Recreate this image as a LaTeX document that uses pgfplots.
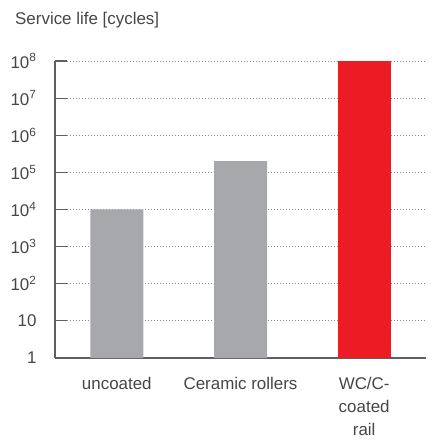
\documentclass[border=0pt]{standalone}
\usepackage{fontspec}
\setmainfont{Liberation Sans}
\usepackage{pgfplots}
\pgfplotsset{compat=1.18}
\definecolor{bargray}{RGB}{167,168,171}
\definecolor{barred}{RGB}{237,28,36}
\definecolor{txt}{RGB}{70,70,72}
\definecolor{axisline}{RGB}{95,95,98}
\definecolor{gridgray}{RGB}{140,140,144}

\begin{document}
\begin{tikzpicture}
\begin{axis}[
    scale only axis,
    width=371bp, height=297bp,
    ymode=log,
    ymin=1, ymax=1e8,
    xmin=-0.5, xmax=2.5,
    axis x line*=bottom,
    axis y line*=left,
    axis line style={axisline, line width=1.2bp},
    ytick={1,10,100,1000,10000,100000,1000000,10000000,100000000},
    yticklabels={1,10,10\textsuperscript{2},10\textsuperscript{3},10\textsuperscript{4},10\textsuperscript{5},10\textsuperscript{6},10\textsuperscript{7},10\textsuperscript{8}},
    minor ytick={},
    minor tick length=0pt,
    major tick length=0pt,
    ytick style={draw=none},
    xtick={0,1,2},
    xticklabels={uncoated,Ceramic rollers,{WC/C-\\coated\\rail}},
    xtick style={draw=none},
    ymajorgrids,
    major grid style={gridgray, line width=0.9bp, dash pattern=on 0.9bp off 2.1bp},
    tick label style={font=\fontsize{17}{23}\selectfont, text=txt},
    yticklabel style={anchor=east, xshift=-15bp},
    xticklabel style={align=center, anchor=north, yshift=-16bp},
    clip=false,
]
\addplot[ybar, bar width=53bp, fill=bargray, draw=none] coordinates {(0,10000) (1,200000)};
\addplot[ybar, bar width=53bp, fill=barred, draw=none] coordinates {(2,100000000)};
\foreach \k in {1,...,8} {
  \edef\temp{\noexpand\draw[axisline, line width=1.2bp] (axis cs:-0.5,1e\k) -- ([xshift=12bp]axis cs:-0.5,1e\k);}
  \temp
}
\coordinate (o) at (rel axis cs:0,0);
\coordinate (t) at (rel axis cs:0,1);
\end{axis}
\node[anchor=base west, font=\fontsize{17}{20}\selectfont, text=txt, inner sep=0pt] at ([xshift=-40bp, yshift=36bp]t) {Service life [cycles]};
\pgfresetboundingbox
\path[use as bounding box] ([xshift=-55bp, yshift=-83bp]o) rectangle ([xshift=378bp, yshift=61bp]t);
\end{tikzpicture}
\end{document}
